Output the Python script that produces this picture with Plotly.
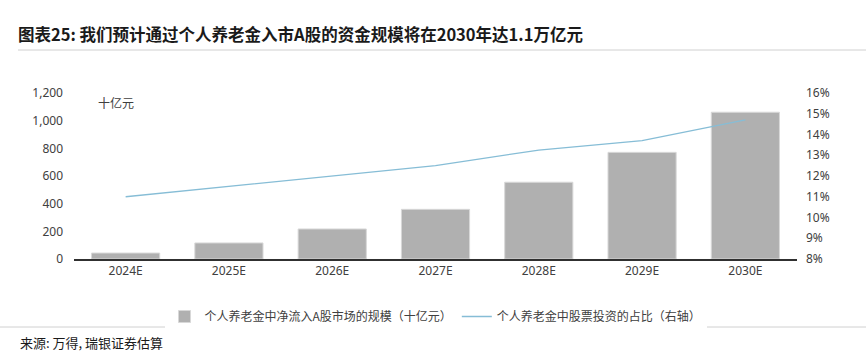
import plotly.graph_objects as go

categories = ["2024E", "2025E", "2026E", "2027E", "2028E", "2029E", "2030E"]
flow_values = [43, 116, 217, 359, 555, 771, 1061]
share_values = [11.0, 11.5, 12.0, 12.5, 13.25, 13.7, 14.7]
left_ticks = [0, 200, 400, 600, 800, 1000, 1200]
right_ticks = [8, 9, 10, 11, 12, 13, 14, 15, 16]
right_tick_labels = [f"{v}%" for v in right_ticks]

W, H = 866, 354
L, R, T, B = 74, 69, 93, 95
pw, ph = W - L - R, H - T - B

def px_x(x):
    return (x - L) / pw

def px_y(y):
    return (H - B - y) / ph

font_cjk = "Noto Sans CJK SC"
tick_font = dict(family="Noto Sans, " + font_cjk, size=12, color="#404040")

fig = go.Figure()
fig.add_trace(go.Bar(
    x=categories, y=flow_values, name="个人养老金中净流入A股市场的规模（十亿元）",
    marker=dict(color="#b0b0b0", line=dict(color="#d8d8d8", width=1)),
    yaxis="y",
))
fig.add_trace(go.Scatter(
    x=categories, y=share_values, name="个人养老金中股票投资的占比（右轴）",
    mode="lines", line=dict(color="#86bdd6", width=1.3), yaxis="y2",
))

fig.update_layout(
    width=W, height=H,
    margin=dict(l=L, r=R, t=T, b=B),
    paper_bgcolor="white", plot_bgcolor="white",
    bargap=0.34,
    showlegend=True,
    legend=dict(orientation="h", x=0.5, xanchor="center", y=px_y(302), yanchor="top",
                font=dict(family=font_cjk, size=12, color="#404040"),
                itemwidth=30, tracegroupgap=0),
    xaxis=dict(showgrid=False, showline=True, linecolor="#303030", linewidth=1.5,
               ticks="", tickfont=tick_font, zeroline=False),
    yaxis=dict(range=[0, 1200], tickvals=left_ticks, tickformat=",", showgrid=False,
               zeroline=False, showline=False, tickfont=tick_font, ticks="",
               ticklabelstandoff=10),
    yaxis2=dict(range=[8, 16], tickmode="array", tickvals=right_ticks,
                ticktext=right_tick_labels, overlaying="y",
                side="right", showgrid=False, zeroline=False, showline=False,
                tickfont=tick_font, ticks="", ticklabelstandoff=8),
    title=dict(text="<b>图表25: 我们预计通过个人养老金入市A股的资金规模将在2030年达1.1万亿元</b>",
               x=18 / W, xanchor="left", y=1 - 35 / H, yanchor="middle",
               font=dict(family=font_cjk, size=16.5, color="#1a1a1a")),
)

fig.add_shape(type="line", xref="paper", yref="paper", x0=px_x(18), x1=px_x(866),
              y0=px_y(50), y1=px_y(50), line=dict(color="#d0d0d0", width=1))
fig.add_shape(type="line", xref="paper", yref="paper", x0=px_x(0), x1=px_x(866),
              y0=px_y(327), y1=px_y(327), line=dict(color="#d0d0d0", width=1))

fig.add_annotation(text="十亿元", xref="paper", yref="paper", x=px_x(96), y=px_y(102),
                   xanchor="left", yanchor="middle", showarrow=False,
                   font=dict(family=font_cjk, size=12, color="#404040"))
fig.add_annotation(text="来源: 万得, 瑞银证券估算", xref="paper", yref="paper",
                   x=px_x(18), y=px_y(342), xanchor="left", yanchor="middle", showarrow=False,
                   font=dict(family=font_cjk, size=13, color="#1a1a1a"))

fig.write_html("out.html")
